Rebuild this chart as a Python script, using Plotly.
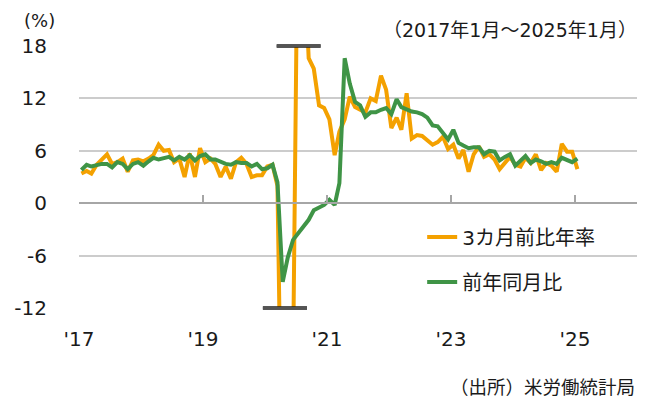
import pandas as pd
import plotly.graph_objects as go

# ---- data (monthly, Jan 2017 - Jan 2025) ----
start_month = "2017-01-01"
n_months = 97
orange_name = "3カ月前比年率"
green_name = "前年同月比"

orange_vals = [
    3.4, 3.7, 3.4, 4.4, 5.0, 5.6, 4.5, 4.7, 5.1, 3.6, 4.9, 5.0,   # 2017
    4.8, 5.1, 5.5, 6.7, 6.0, 6.1, 4.7, 5.1, 3.0, 5.7, 3.0, 6.3,   # 2018
    4.7, 5.1, 4.5, 3.0, 4.2, 2.8, 4.7, 5.2, 4.5, 3.0, 3.2, 3.2,   # 2019
    4.2, 4.4, 2.0, -37.0, -31.0, -18.0, 38.0, 30.0, 16.6, 15.4, 11.2, 10.9,  # 2020
    9.6, 5.5, 8.2, 9.6, 12.2, 11.0, 10.7, 10.4, 12.0, 11.7, 14.6, 13.0,  # 2021
    8.6, 9.8, 8.4, 12.6, 7.4, 7.8, 7.7, 7.2, 6.7, 7.0, 7.6, 6.2,   # 2022
    6.7, 5.1, 6.1, 3.6, 5.6, 6.5, 5.3, 5.6, 5.0, 3.9, 4.6, 5.3,   # 2023
    4.4, 4.2, 5.2, 4.6, 5.6, 3.8, 4.6, 4.3, 3.6, 6.8, 5.9, 5.9,   # 2024
    3.9,                                                          # 2025
]
green_vals = [
    3.8, 4.4, 4.2, 4.4, 4.5, 4.5, 4.1, 4.7, 4.5, 3.9, 4.5, 4.7,   # 2017
    4.3, 4.8, 5.2, 5.0, 5.1, 5.3, 4.9, 5.3, 5.0, 5.5, 4.9, 5.4,   # 2018
    5.6, 5.0, 5.0, 4.7, 4.5, 4.4, 4.7, 4.6, 4.6, 4.2, 4.5, 3.9,   # 2019
    4.0, 4.4, 2.4, -9.0, -6.2, -4.2, -3.5, -2.6, -1.9, -0.8, -0.5, -0.2,  # 2020
    0.4, -0.2, 2.3, 16.6, 13.7, 11.6, 11.2, 9.9, 10.4, 10.4, 10.7, 10.9,  # 2021
    10.2, 11.9, 11.0, 10.7, 10.5, 10.4, 10.2, 9.8, 8.9, 8.8, 8.1, 7.3,  # 2022
    8.4, 6.9, 6.6, 6.3, 6.4, 6.4, 5.6, 6.0, 5.9, 4.9, 5.3, 5.6,   # 2023
    4.3, 4.9, 5.4, 4.6, 5.0, 4.8, 4.5, 4.7, 4.5, 5.2, 5.0, 4.7,   # 2024
    5.1,                                                          # 2025
]

tick_dates = ["2017-01-01", "2019-01-01", "2021-01-01", "2023-01-01", "2025-01-01"]
tick_text = ["'17", "'19", "'21", "'23", "'25"]
y_ticks = [-12, -6, 0, 6, 12, 18]
y_tick_text = ["-12", "-6", "0", "6", "12", "18"]
y_range = [-12, 18]
x_range = ["2017-01-01", "2026-01-01"]

# break marks (where the 3-month series leaves the scale)
break_top = ("2020-03-10", "2020-11-25", 18)
break_bottom = ("2019-12-20", "2020-09-05", -12)

dates = pd.date_range(start_month, periods=n_months, freq="MS") + pd.Timedelta(days=14)

ORANGE = "#F4A100"
GREEN = "#3F9446"
FONT = "DejaVu Sans, Noto Sans CJK JP, sans-serif"
TXT = "#1a1a1a"

fig = go.Figure()
fig.add_trace(go.Scatter(x=dates, y=orange_vals, mode="lines", name=orange_name,
                         line=dict(color=ORANGE, width=4), legend="legend"))
fig.add_trace(go.Scatter(x=dates, y=green_vals, mode="lines", name=green_name,
                         line=dict(color=GREEN, width=4), legend="legend2"))
# invisible helper trace for the zero-line axis
fig.add_trace(go.Scatter(x=[dates[0]], y=[0], xaxis="x2", mode="lines",
                         showlegend=False, hoverinfo="skip", line=dict(width=0)))

def ypaper(v):
    return (v - y_range[0]) / (y_range[1] - y_range[0])

for (x0, x1, yv) in (break_top, break_bottom):
    fig.add_shape(type="line", xref="x", yref="paper", x0=x0, x1=x1,
                  y0=ypaper(yv), y1=ypaper(yv), line=dict(color="#1e1e1e", width=3.5))
    fig.add_shape(type="line", xref="x", yref="paper", x0=x0, x1=x1,
                  y0=ypaper(yv), y1=ypaper(yv), line=dict(color="#8a8a8a", width=1))

fig.update_layout(
    width=649, height=401,
    margin=dict(l=79, r=12, t=46, b=93),
    paper_bgcolor="white", plot_bgcolor="white",
    font=dict(family=FONT, size=20, color=TXT),
    xaxis=dict(type="date", range=x_range, tickvals=tick_dates, ticktext=tick_text,
               showgrid=False, showline=False, zeroline=False,
               ticks="outside", ticklen=13, tickcolor="rgba(0,0,0,0)",
               tickfont=dict(size=20, family=FONT, color=TXT)),
    xaxis2=dict(type="date", range=x_range, overlaying="x", anchor="free",
                position=ypaper(0), side="bottom", tickvals=tick_dates,
                showticklabels=False, showgrid=False, zeroline=False,
                showline=True, linecolor="#a6a6a6", linewidth=1.5,
                ticks="inside", ticklen=7, tickcolor="#a6a6a6", tickwidth=1.5),
    yaxis=dict(range=y_range, tickvals=y_ticks, ticktext=y_tick_text,
               showgrid=True, gridcolor="#cccccc",
               gridwidth=1.5, zeroline=False, showline=False,
               ticks="outside", ticklen=27, tickcolor="rgba(0,0,0,0)",
               tickfont=dict(size=20, family=FONT, color=TXT)),
    legend=dict(x=0.615, y=(308 - 237) / 262, xanchor="left", yanchor="middle",
                bgcolor="rgba(0,0,0,0)", font=dict(size=20, family=FONT, color=TXT)),
    legend2=dict(x=0.615, y=(308 - 282) / 262, xanchor="left", yanchor="middle",
                 bgcolor="rgba(0,0,0,0)", font=dict(size=20, family=FONT, color=TXT)),
    showlegend=True,
)

fig.add_annotation(text="(%)", xref="paper", yref="paper", x=-0.07, y=1.099,
                   xanchor="center", yanchor="middle", showarrow=False,
                   font=dict(size=18, family=FONT, color=TXT))
fig.add_annotation(text="（2017年1月～2025年1月）", xref="paper", yref="paper",
                   x=1.004, y=1.061, xanchor="right", yanchor="middle", showarrow=False,
                   font=dict(size=19, family=FONT, color=TXT))
fig.add_annotation(text="（出所）米労働統計局", xref="paper", yref="paper",
                   x=1.0, y=-0.305, xanchor="right", yanchor="middle", showarrow=False,
                   font=dict(size=18.5, family=FONT, color=TXT))

fig.write_html("out.html", config={"displayModeBar": False},
               post_script="document.body.style.margin='0';")
